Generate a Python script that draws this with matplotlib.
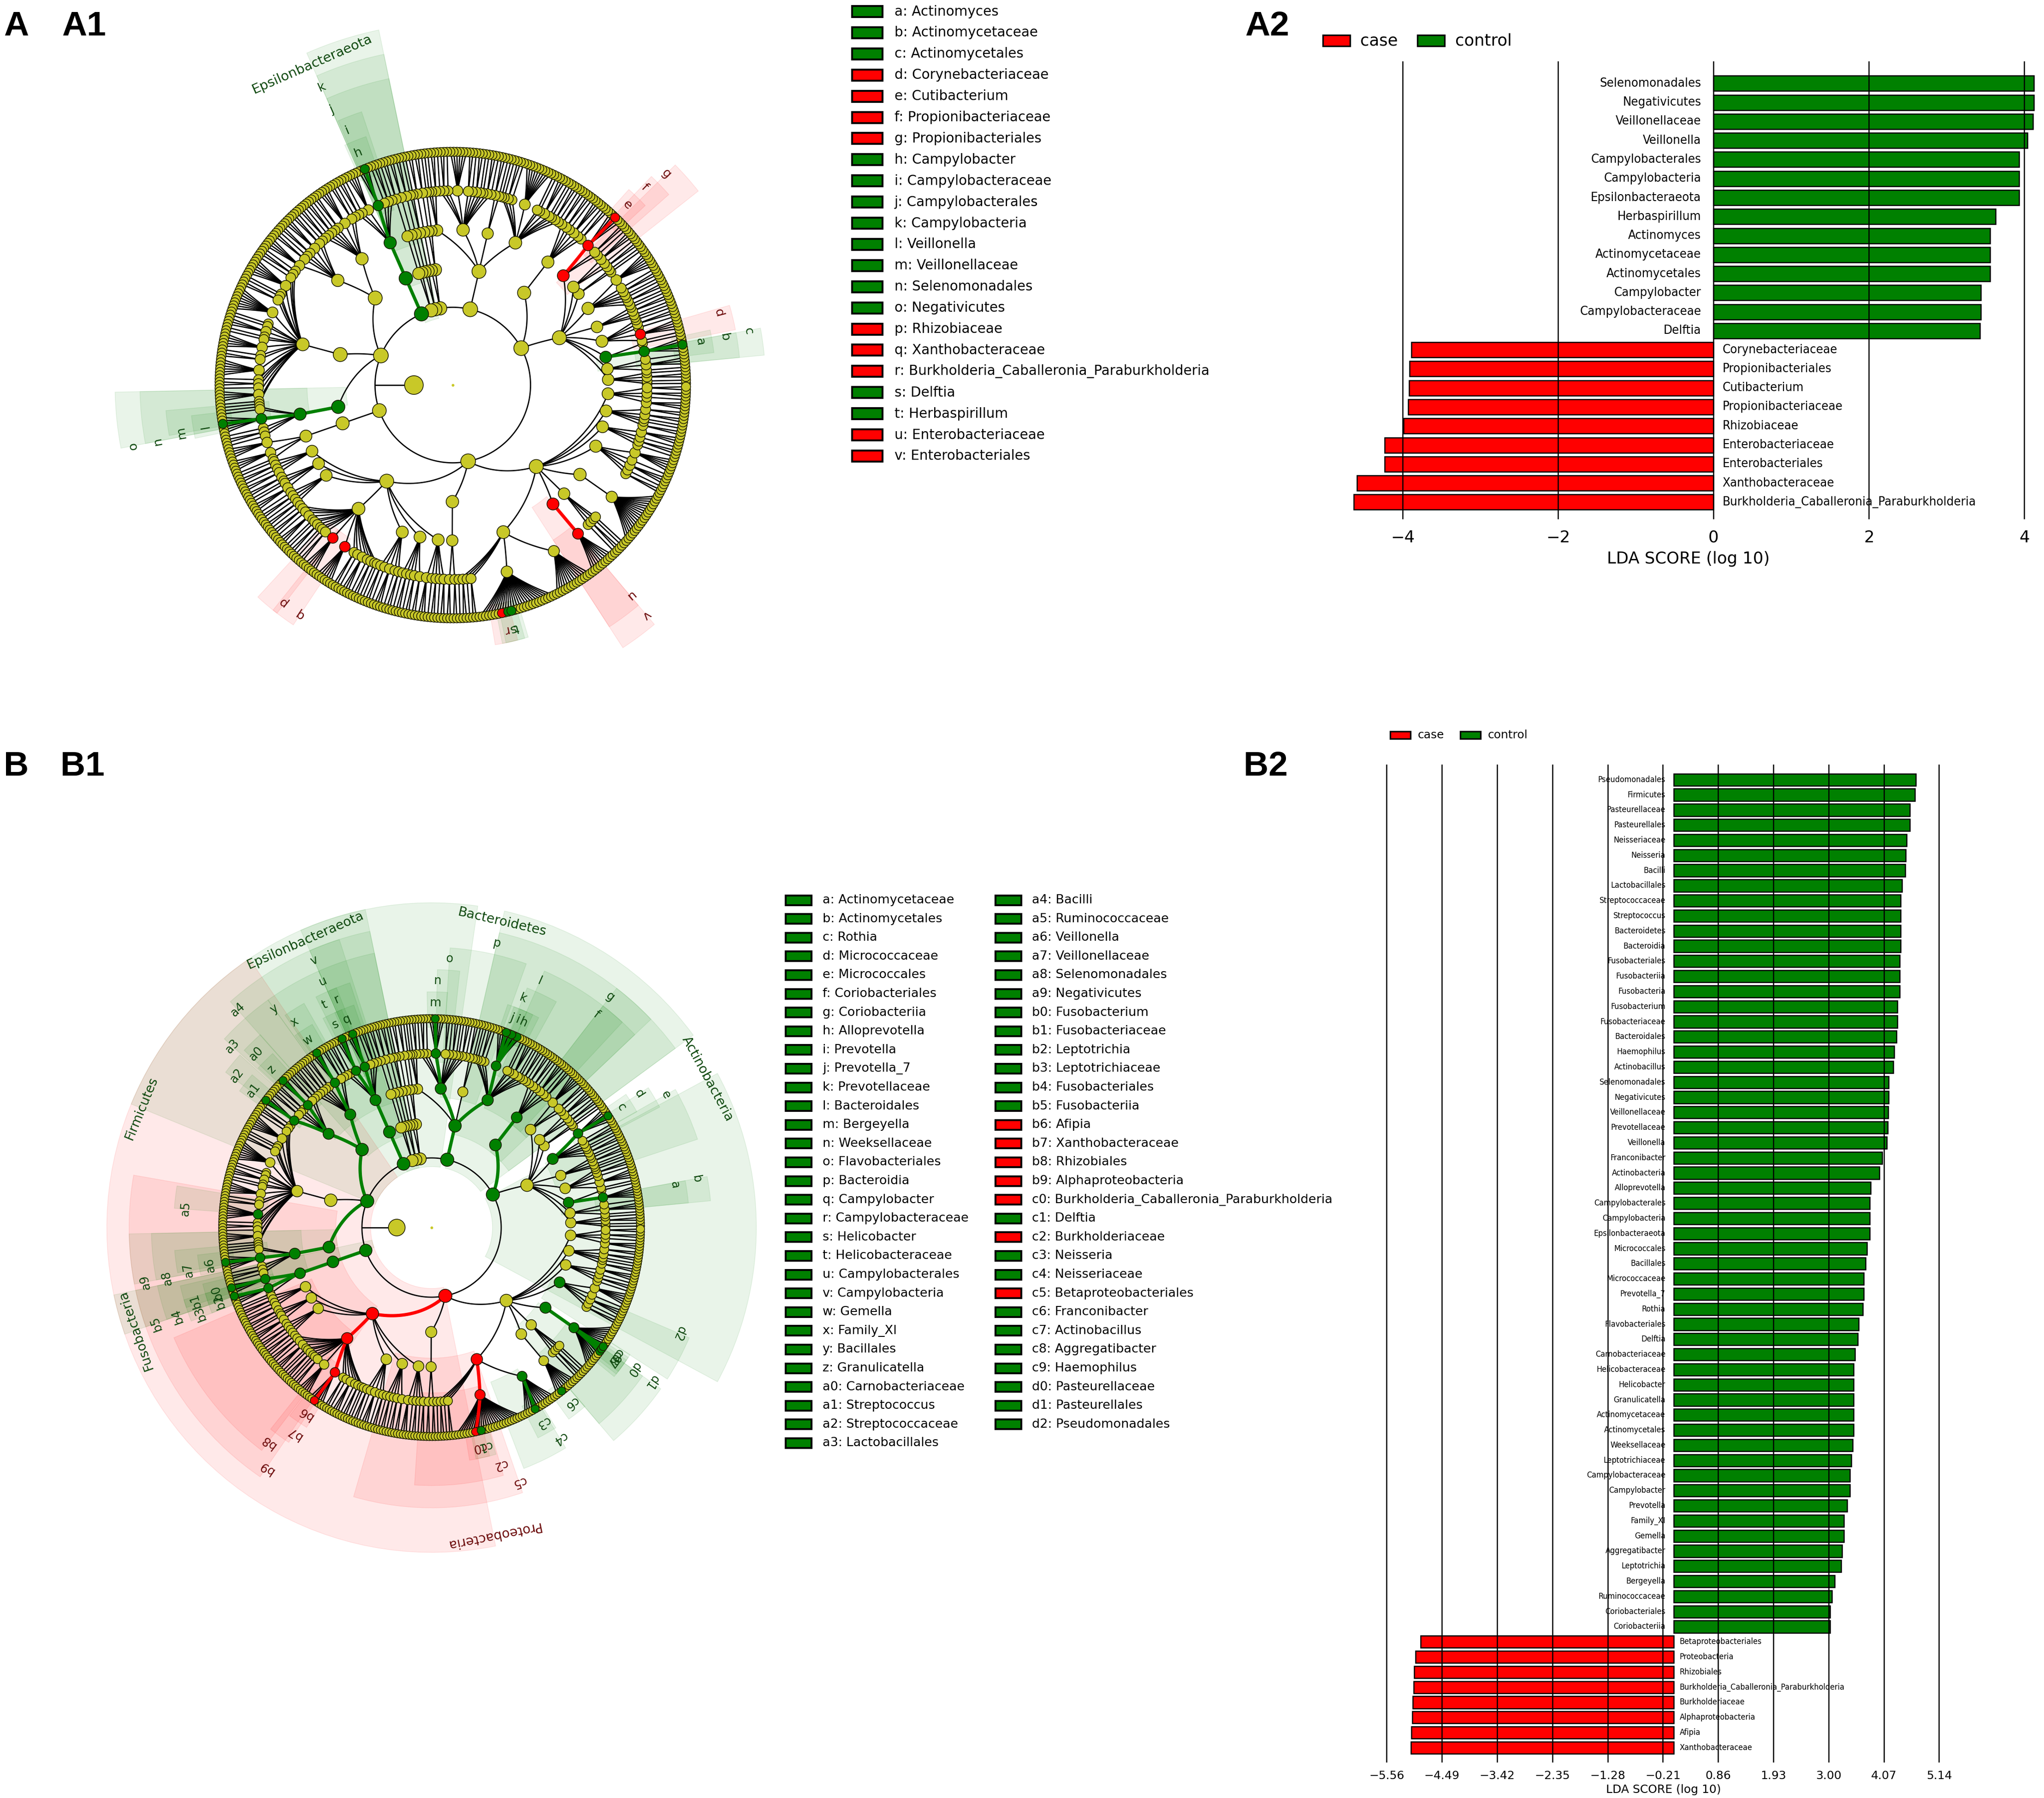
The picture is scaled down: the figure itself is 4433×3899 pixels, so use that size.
import numpy as np
import matplotlib
matplotlib.use("Agg")
import matplotlib.pyplot as plt
from matplotlib.patches import Wedge, Rectangle
from matplotlib.collections import LineCollection

W, H, DPI = 4433, 3899, 300
GREEN, RED, YELLOW = "#008000", "#ff0000", "#c8c828"
DKGREEN, DKRED = "#0d470d", "#6b0a0a"

# ---------------- LDA scores (A2 / B2) ----------------
a2_taxa = ["Selenomonadales", "Negativicutes", "Veillonellaceae", "Veillonella",
           "Campylobacterales", "Campylobacteria", "Epsilonbacteraeota", "Herbaspirillum",
           "Actinomyces", "Actinomycetaceae", "Actinomycetales", "Campylobacter",
           "Campylobacteraceae", "Delftia", "Corynebacteriaceae", "Propionibacteriales",
           "Cutibacterium", "Propionibacteriaceae", "Rhizobiaceae", "Enterobacteriaceae",
           "Enterobacteriales", "Xanthobacteraceae",
           "Burkholderia_Caballeronia_Paraburkholderia"]
a2_lda = [4.12, 4.12, 4.11, 4.04, 3.93, 3.93, 3.93, 3.63, 3.56, 3.56, 3.56, 3.44,
          3.44, 3.43, -3.89, -3.91, -3.92, -3.93, -3.99, -4.23, -4.23, -4.59, -4.63]
a2_ticks = [-4, -2, 0, 2, 4]

b2_taxa = ["Pseudomonadales", "Firmicutes", "Pasteurellaceae", "Pasteurellales",
           "Neisseriaceae", "Neisseria", "Bacilli", "Lactobacillales", "Streptococcaceae",
           "Streptococcus", "Bacteroidetes", "Bacteroidia", "Fusobacteriales",
           "Fusobacteriia", "Fusobacteria", "Fusobacterium", "Fusobacteriaceae",
           "Bacteroidales", "Haemophilus", "Actinobacillus", "Selenomonadales",
           "Negativicutes", "Veillonellaceae", "Prevotellaceae", "Veillonella",
           "Franconibacter", "Actinobacteria", "Alloprevotella", "Campylobacterales",
           "Campylobacteria", "Epsilonbacteraeota", "Micrococcales", "Bacillales",
           "Micrococcaceae", "Prevotella_7", "Rothia", "Flavobacteriales", "Delftia",
           "Carnobacteriaceae", "Helicobacteraceae", "Helicobacter", "Granulicatella",
           "Actinomycetaceae", "Actinomycetales", "Weeksellaceae", "Leptotrichiaceae",
           "Campylobacteraceae", "Campylobacter", "Prevotella", "Family_XI", "Gemella",
           "Aggregatibacter", "Leptotrichia", "Bergeyella", "Ruminococcaceae",
           "Coriobacteriales", "Coriobacteriia", "Betaproteobacteriales",
           "Proteobacteria", "Rhizobiales", "Burkholderia_Caballeronia_Paraburkholderia",
           "Burkholderiaceae", "Alphaproteobacteria", "Afipia", "Xanthobacteraceae"]
b2_lda = [4.69, 4.67, 4.57, 4.57, 4.51, 4.49, 4.48, 4.42, 4.39, 4.39, 4.39, 4.39,
          4.38, 4.38, 4.38, 4.33, 4.33, 4.31, 4.27, 4.25, 4.16, 4.16, 4.15, 4.14,
          4.13, 4.04, 3.98, 3.81, 3.80, 3.80, 3.80, 3.74, 3.72, 3.68, 3.68, 3.66,
          3.58, 3.56, 3.51, 3.48, 3.48, 3.48, 3.48, 3.48, 3.47, 3.44, 3.41, 3.41,
          3.36, 3.30, 3.30, 3.26, 3.24, 3.12, 3.06, 3.03, 3.03,
          -4.90, -5.00, -5.03, -5.04, -5.05, -5.06, -5.08, -5.09]
b2_ticks = [-5.56, -4.49, -3.42, -2.35, -1.28, -0.21, 0.86, 1.93, 3.00, 4.07, 5.14]

# ---------------- cladogram legends (A1 / B1) ----------------
a1_letters = list("abcdefghijklmnopqrstuv")
a1_taxa = ["Actinomyces", "Actinomycetaceae", "Actinomycetales", "Corynebacteriaceae",
           "Cutibacterium", "Propionibacteriaceae", "Propionibacteriales", "Campylobacter",
           "Campylobacteraceae", "Campylobacterales", "Campylobacteria", "Veillonella",
           "Veillonellaceae", "Selenomonadales", "Negativicutes", "Rhizobiaceae",
           "Xanthobacteraceae", "Burkholderia_Caballeronia_Paraburkholderia", "Delftia",
           "Herbaspirillum", "Enterobacteriaceae", "Enterobacteriales"]

b1_letters = ("a b c d e f g h i j k l m n o p q r s t u v w x y z a0 a1 a2 a3 a4 a5 a6 "
              "a7 a8 a9 b0 b1 b2 b3 b4 b5 b6 b7 b8 b9 c0 c1 c2 c3 c4 c5 c6 c7 c8 c9 "
              "d0 d1 d2").split()
b1_taxa = ["Actinomycetaceae", "Actinomycetales", "Rothia", "Micrococcaceae",
           "Micrococcales", "Coriobacteriales", "Coriobacteriia", "Alloprevotella",
           "Prevotella", "Prevotella_7", "Prevotellaceae", "Bacteroidales", "Bergeyella",
           "Weeksellaceae", "Flavobacteriales", "Bacteroidia", "Campylobacter",
           "Campylobacteraceae", "Helicobacter", "Helicobacteraceae", "Campylobacterales",
           "Campylobacteria", "Gemella", "Family_XI", "Bacillales", "Granulicatella",
           "Carnobacteriaceae", "Streptococcus", "Streptococcaceae", "Lactobacillales",
           "Bacilli", "Ruminococcaceae", "Veillonella", "Veillonellaceae",
           "Selenomonadales", "Negativicutes", "Fusobacterium", "Fusobacteriaceae",
           "Leptotrichia", "Leptotrichiaceae", "Fusobacteriales", "Fusobacteriia",
           "Afipia", "Xanthobacteraceae", "Rhizobiales", "Alphaproteobacteria",
           "Burkholderia_Caballeronia_Paraburkholderia", "Delftia", "Burkholderiaceae",
           "Neisseria", "Neisseriaceae", "Betaproteobacteriales", "Franconibacter",
           "Actinobacillus", "Aggregatibacter", "Haemophilus", "Pasteurellaceae",
           "Pasteurellales", "Pseudomonadales"]

# ---------------- taxonomy behind both cladograms ----------------
# (name, children) = named clade, [..] = unnamed clade,
# int = unnamed clade down to family level holding that many genera
PHYLA = [
    ("Actinobacteria", [
        [[1, 1, 2, 1], [1, 3, 1],
         ("Actinomycetales", [("Actinomycetaceae", [2, "Actinomyces", 2]), 1]),
         [1, ("Corynebacteriaceae", [4]), 1, 2, 1],
         [1, 1, 2, 1],
         ("Micrococcales", [1, 2, 1, 1, 2, 1, ("Micrococcaceae", [2, "Rothia", 3])]),
         [1, 1], [2, 1, 3],
         ("Propionibacteriales", [1, 2, ("Propionibacteriaceae", [2, "Cutibacterium", 2])])],
        ("Coriobacteriia", [("Coriobacteriales", [2, 1, 3, 1, 2, 2])]),
    ]),
    ("Bacteroidetes", [
        ("Bacteroidia", [
            ("Bacteroidales", [1, 2, 1, 1, 3, 1, 1,
                               ("Prevotellaceae", [1, "Alloprevotella", 1, "Prevotella", 1,
                                                   "Prevotella_7", 3]),
                               1, 2, 1, 1]),
            [1, 2],
            ("Flavobacteriales", [1, 2, 1, 1, 2, 1, 2,
                                  ("Weeksellaceae", [3, "Bergeyella", 2]), 1, 2, 1]),
            [2, 1, 1],
        ]),
    ]),
    [[1, 2], [2]], [[[1, 1]], 2], [2, 2],
    ("Epsilonbacteraeota", [
        ("Campylobacteria", [
            ("Campylobacterales", [1, 2, 1, ("Campylobacteraceae", [1, "Campylobacter", 2]),
                                   ("Helicobacteraceae", [1, "Helicobacter", 2]), 1, 2]),
        ]),
    ]),
    ("Firmicutes", [
        ("Bacilli", [
            ("Bacillales", [1, 2, ("Family_XI", [1, "Gemella", 2]), 2, 1, 2, 1, 2]),
            ("Lactobacillales", [1, 2, ("Carnobacteriaceae", [1, "Granulicatella", 1]), 2, 1, 2,
                                 ("Streptococcaceae", [2, "Streptococcus", 1])]),
        ]),
        [[1, 2, 1, 6, 1, 1, 2, 8, 1, 1, 3, 1, 1, 5, 1, 2, ("Ruminococcaceae", [6]),
          1, 2, 1, 4, 1, 1]],
        ("Negativicutes", [("Selenomonadales", [1, 1, ("Veillonellaceae", [2, "Veillonella", 3]),
                                                1, 2, 1])]),
    ]),
    ("Fusobacteria", [
        ("Fusobacteriia", [
            ("Fusobacteriales", [("Fusobacteriaceae", [1, "Fusobacterium", 2]),
                                 ("Leptotrichiaceae", ["Leptotrichia", 3]), 1]),
        ]),
    ]),
    ("Proteobacteria", [
        ("Alphaproteobacteria", [
            [1, 2, 1, 2], [2, 1, 1, 3], [1, 2, 1, 2],
            ("Rhizobiales", [1, 2, 1, 3, 1, 1, 2, 1, 1, 2, ("Rhizobiaceae", [5]),
                             ("Xanthobacteraceae", [2, "Afipia", 3]), 2, 1, 3, 1, 2, 1, 1]),
            [2, 1, 3, 1, 2], [1, 2, 1, 2, 2], [3, 1, 2, 1, 2],
        ]),
        [[2, 2]],
        ("Gammaproteobacteria", [
            ("Betaproteobacteriales", [1, 2, 1, 2,
                ("Burkholderiaceae", [7, "Burkholderia_Caballeronia_Paraburkholderia", 1,
                                      "Delftia", "Herbaspirillum", 14]),
                ("Neisseriaceae", [4, "Neisseria", 8])]),
            ("Enterobacteriales", [("Enterobacteriaceae", [2, "Franconibacter", 6])]),
            [1, 2, 1, 1],
            ("Pasteurellales", [("Pasteurellaceae", [7, "Actinobacillus", "Aggregatibacter",
                                                     "Haemophilus", 8])]),
            ("Pseudomonadales", [2, 1, 3, 1, 5]),
            [1, 2, 1, 3], [2, 1, 1, 2, 2], [3, 1, 2, 2],
        ]),
    ]),
]

plt.rcParams["font.family"] = ["DejaVu Sans"]

fig = plt.figure(figsize=(W / DPI, H / DPI), dpi=DPI)
ax0 = fig.add_axes([0, 0, 1, 1])
ax0.set_xlim(0, W)
ax0.set_ylim(0, H)
ax0.axis("off")


def build(spec, level):
    if isinstance(spec, str):
        return [{"name": spec, "level": level, "kids": []}]
    if isinstance(spec, int):
        if level >= 6:
            return [{"name": None, "level": level, "kids": []} for _ in range(spec)]
        return [{"name": None, "level": level, "kids": build(spec, level + 1)}]
    name, kids = spec if isinstance(spec, tuple) else (None, spec)
    return [{"name": name, "level": level,
             "kids": [c for k in kids for c in build(k, level + 1)]}]


def make_tree():
    king = {"name": "Bacteria", "level": 1, "kids": [c for p in PHYLA for c in build(p, 2)]}
    count = [0]
    flat = []

    def walk(n, parent):
        n["parent"] = parent
        flat.append(n)
        if not n["kids"]:
            n["i0"] = n["i1"] = count[0]
            count[0] += 1
        else:
            for k in n["kids"]:
                walk(k, n)
            n["i0"], n["i1"] = n["kids"][0]["i0"], n["kids"][-1]["i1"]
        n["nleaf"] = n["i1"] - n["i0"] + 1

    walk(king, None)
    d = 360.0 / count[0]
    for n in flat:
        n["a"], n["b"] = n["i0"] * d, (n["i1"] + 1) * d
        n["t"] = 0.5 * (n["a"] + n["b"])
    return flat


DIAM = {1: 0.48, 2: 0.38, 3: 0.36, 4: 0.33, 5: 0.30, 6: 0.28}


def draw_cladogram(cx, cy_px, step, taxa, lda, letters, letter_taxa, fs_letter, fs_phylum):
    cy = H - cy_px
    col = {t: (GREEN if v > 0 else RED) for t, v in zip(taxa, lda)}
    flat = make_tree()

    def xy(r, t):
        t = np.radians(t)
        return cx + r * np.cos(t), cy + r * np.sin(t)

    # shaded clade backgrounds + labels
    marks = sorted([n for n in flat if n["name"] in col], key=lambda n: n["level"])
    for n in marks:
        L = n["level"]
        w = n["b"] - n["a"]
        wd = max(w, 5.0)
        r_lab = step * (6.45 + 0.64 * (6 - L))
        r_out = r_lab + 0.32 * step
        r_in = (L - 0.25) * step
        c = col[n["name"]]
        ax0.add_patch(Wedge((cx, cy), r_out, n["a"] - wd / 2, n["a"] + wd / 2,
                            width=r_out - r_in, facecolor=c, edgecolor=c,
                            alpha=0.085, lw=0.4, zorder=1))
        lab = letters[letter_taxa.index(n["name"])] if n["name"] in letter_taxa else n["name"]
        lx, ly = xy(r_lab, n["t"])
        ax0.text(lx, ly, lab, rotation=(n["t"] - 90) % 360, rotation_mode="anchor",
                 ha="center", va="center", color=DKGREEN if c == GREEN else DKRED,
                 fontsize=fs_phylum if L == 2 else fs_letter, zorder=5)

    # branches
    segs, cols, lws = [], [], []
    king = flat[0]
    segs.append(np.column_stack(xy(np.array([step, 2 * step]), np.array([king["t"]] * 2))))
    tt = np.linspace(0, 360, 400)
    segs.append(np.column_stack(xy(np.full(400, 2 * step), tt)))
    cols += ["black", "black"]
    lws += [0.65, 0.65]
    for n in flat[1:]:
        p = n["parent"]
        if p["level"] < 2:
            continue
        t = np.linspace(p["t"], n["t"], 30)
        r = np.linspace(p["level"] * step, n["level"] * step, 30)
        segs.append(np.column_stack(xy(r, t)))
        if n["name"] in col and p["name"] in col and col[n["name"]] == col[p["name"]]:
            cols.append(col[n["name"]])
            lws.append(1.7)
        else:
            cols.append("black")
            lws.append(0.65)
    order = np.argsort(lws, kind="stable")
    ax0.add_collection(LineCollection([segs[i] for i in order], colors=[cols[i] for i in order],
                                      linewidths=[lws[i] for i in order], zorder=2))

    # nodes
    plain = [n for n in flat if n["name"] not in col]
    hi = [n for n in flat if n["name"] in col]
    for group, z in ((sorted(plain, key=lambda n: -n["level"]), 3),
                     (sorted(hi, key=lambda n: -n["level"]), 4)):
        if not group:
            continue
        x, y = xy(np.array([n["level"] * step for n in group]), np.array([n["t"] for n in group]))
        f = np.array([0.8 + 0.2 * min(1.0, np.log1p(n["nleaf"]) / np.log1p(30)) for n in group])
        dpx = np.array([DIAM[n["level"]] for n in group]) * step * f
        fc = [col.get(n["name"], YELLOW) for n in group]
        ax0.scatter(x, y, s=(dpx * 72 / DPI) ** 2, c=fc, edgecolors="#1a1a00",
                    linewidths=0.38, zorder=z)
    ax0.scatter([cx], [cy], s=(6 * 72 / DPI) ** 2, c=YELLOW, linewidths=0, zorder=3)


draw_cladogram(982, 835, 84.3, a2_taxa, a2_lda, a1_letters, a1_taxa, 6.5, 7)
draw_cladogram(936, 2662, 75.5, b2_taxa, b2_lda, b1_letters, b1_taxa, 6.2, 6.8)


def legend_rows(x_patch, x_text, y0, dy, labels, colors, pw, ph, fs):
    for i, (lab, c) in enumerate(zip(labels, colors)):
        y = H - (y0 + i * dy)
        ax0.add_patch(Rectangle((x_patch, y - ph / 2), pw, ph, facecolor=c,
                                edgecolor="black", lw=1.0, zorder=6))
        ax0.text(x_text, y, lab, ha="left", va="center", fontsize=fs, zorder=6)


a_col = {t: (GREEN if v > 0 else RED) for t, v in zip(a2_taxa, a2_lda)}
b_col = {t: (GREEN if v > 0 else RED) for t, v in zip(b2_taxa, b2_lda)}
legend_rows(1848, 1940, 25, 45.9, [f"{l}: {t}" for l, t in zip(a1_letters, a1_taxa)],
            [a_col[t] for t in a1_taxa], 66, 24, 7.1)
legend_rows(1704, 1784, 1952, 40.6, [f"{l}: {t}" for l, t in zip(b1_letters[:30], b1_taxa[:30])],
            [b_col[t] for t in b1_taxa[:30]], 56, 21, 6.5)
legend_rows(2159, 2238, 1952, 40.6, [f"{l}: {t}" for l, t in zip(b1_letters[30:], b1_taxa[30:])],
            [b_col[t] for t in b1_taxa[30:]], 56, 21, 6.5)


def bar_panel(left, right, top, bottom, xlim, taxa, lda, ticks, ticklabels,
              fs_lab, fs_tick, gap, pad_top, pad_bot, tick_pad, xlab_pad):
    ax = fig.add_axes([left / W, 1 - bottom / H, (right - left) / W, (bottom - top) / H])
    ax.set_facecolor("none")
    y = np.arange(len(taxa))
    ax.barh(y, lda, height=0.8, color=[GREEN if v > 0 else RED for v in lda],
            edgecolor="black", linewidth=0.6, zorder=1)
    for yi, name, v in zip(y, taxa, lda):
        if v > 0:
            ax.text(-gap, yi, name, ha="right", va="center", fontsize=fs_lab,
                    fontstretch="condensed", zorder=4)
        else:
            ax.text(gap * 0.7, yi, name, ha="left", va="center", fontsize=fs_lab,
                    fontstretch="condensed", zorder=4)
    ax.set_xlim(*xlim)
    ax.set_ylim(len(taxa) - 1 + pad_bot, -pad_top)
    ax.set_yticks([])
    ax.set_xticks(ticks)
    ax.set_xticklabels(ticklabels, fontsize=fs_tick)
    ax.tick_params(axis="x", length=0, pad=tick_pad)
    for s in ax.spines.values():
        s.set_visible(False)
    ax.grid(axis="x", color="black", linewidth=0.6)
    ax.set_axisbelow(False)
    ax.set_xlabel("LDA SCORE (log 10)", fontsize=fs_tick, labelpad=xlab_pad)
    return ax


bar_panel(2899, 4424, 133, 1126, (-4.85, 4.2), a2_taxa, a2_lda, a2_ticks,
          [f"{t:d}".replace("-", "\u2212") for t in a2_ticks], 6.6, 8.5, 0.16, 1.16, 0.9, 5.5, 3)
bar_panel(2958, 4257, 1658, 3822, (-6.0, 5.6), b2_taxa, b2_lda, b2_ticks,
          [f"{t:.2f}".replace("-", "\u2212") for t in b2_ticks], 4.3, 6.0, 0.16, 1.0, 0.98, 4.0, 1.5)


def group_legend(x_case, x_case_t, x_ctrl, x_ctrl_t, y, pw, ph, fs):
    for xp, xt, c, lab in ((x_case, x_case_t, RED, "case"), (x_ctrl, x_ctrl_t, GREEN, "control")):
        ax0.add_patch(Rectangle((xp, H - y - ph / 2), pw, ph, facecolor=c, edgecolor="black",
                                lw=0.8, zorder=6))
        ax0.text(xt, H - y, lab, ha="left", va="center", fontsize=fs, zorder=6)


group_legend(2869, 2950, 3074, 3156, 88, 59, 24, 8.5)
group_legend(3015, 3075, 3167, 3227, 1594, 44, 16, 6)

for lab, x, y in (("A", 8, 77), ("A1", 134, 77), ("A2", 2700, 77),
                  ("B", 8, 1682), ("B1", 131, 1682), ("B2", 2697, 1682)):
    ax0.text(x, H - y, lab, fontsize=18, fontweight="bold", family="Liberation Sans",
             ha="left", va="baseline", zorder=7)

fig.savefig("out.png", dpi=DPI, facecolor="white")
